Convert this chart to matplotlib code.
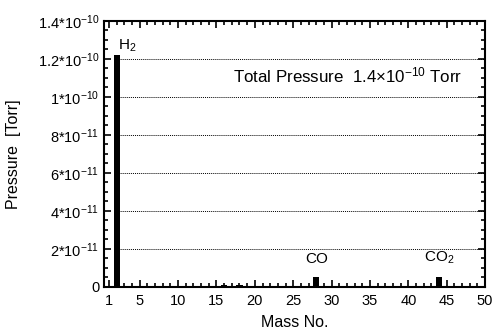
import matplotlib
matplotlib.use("Agg")
import matplotlib.pyplot as plt
from matplotlib.ticker import MultipleLocator, FixedLocator

plt.rcParams['font.family'] = ['Liberation Sans', 'DejaVu Sans']
plt.rcParams['mathtext.fontset'] = 'custom'
plt.rcParams['mathtext.rm'] = 'Liberation Sans'
plt.rcParams['mathtext.it'] = 'Liberation Sans'

# mass spectrum data
mass = [2, 16, 18, 28, 44]
pressure = [1.22e-10, 1.2e-12, 0.9e-12, 5.0e-12, 5.2e-12]
peak_names = {2: r'H$_2$', 28: 'CO', 44: r'CO$_2$'}

y_ticks = [0, 2e-11, 4e-11, 6e-11, 8e-11, 1e-10, 1.2e-10, 1.4e-10]
y_labels = ['0', r'$2{*}10^{-11}$', r'$4{*}10^{-11}$', r'$6{*}10^{-11}$',
            r'$8{*}10^{-11}$', r'$1{*}10^{-10}$', r'$1.2{*}10^{-10}$', r'$1.4{*}10^{-10}$']
x_ticks = [1, 5, 10, 15, 20, 25, 30, 35, 40, 45, 50]

fig = plt.figure(figsize=(4.93, 3.31), dpi=100)
ax = fig.add_axes([0.211, 0.133, 0.773, 0.804])

# dotted grid lines (start right of the H2 peak)
for yv in y_ticks[1:-1]:
    ax.hlines(yv, 2, 50, colors='k', linestyles=(0, (1, 1)), linewidth=0.7, zorder=1)

ax.bar(mass, pressure, width=0.8, color='k', zorder=3)

ax.set_xlim(0.35, 50)
ax.set_ylim(0, 1.4e-10)
ax.xaxis.set_major_locator(FixedLocator(x_ticks))
ax.xaxis.set_minor_locator(MultipleLocator(1))
ax.set_yticks(y_ticks)
ax.set_yticklabels(y_labels)
ax.yaxis.set_minor_locator(MultipleLocator(5e-12))

ax.tick_params(which='both', direction='in', top=True, right=True, labelsize=10.5, width=1.2)
ax.tick_params(which='major', length=5)
ax.tick_params(which='minor', length=3)
ax.tick_params(axis='x', pad=5)
for s in ax.spines.values():
    s.set_linewidth(1.5)

ax.text(2.2, 1.225e-10, peak_names[2], fontsize=11, ha='left', va='bottom')
ax.text(28, 1.1e-11, peak_names[28], fontsize=11, ha='center', va='bottom')
ax.text(44, 1.1e-11, peak_names[44], fontsize=11, ha='center', va='bottom')
ax.text(17.2, 1.115e-10, r'Total Pressure  1.4$\times$10$^{-10}$ Torr', fontsize=12.2, ha='left', va='center')

ax.set_xlabel('Mass No.', fontsize=11.5, labelpad=5)
ax.set_ylabel('Pressure  [Torr]', fontsize=11.5, labelpad=12)

fig.savefig('out.png', dpi=100)
